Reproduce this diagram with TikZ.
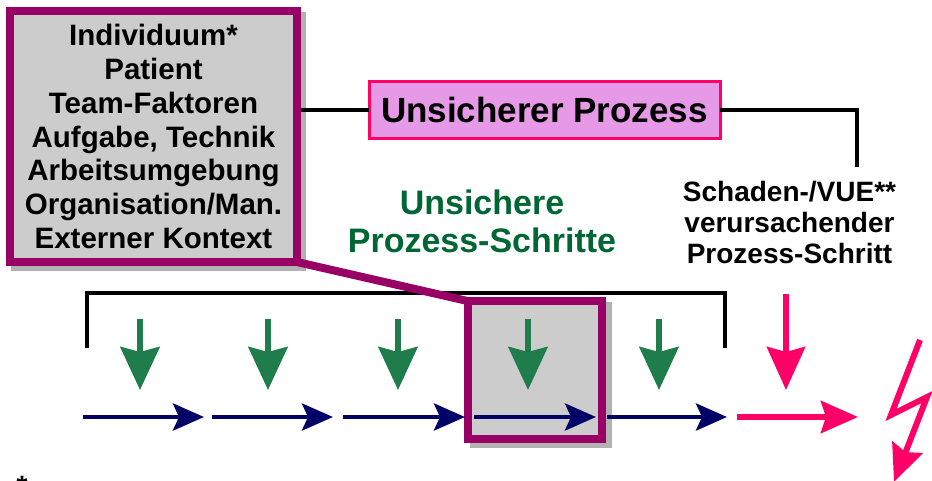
\documentclass[tikz,border=0pt]{standalone}
\usepackage{fontspec}
\setmainfont{Liberation Sans}
\usetikzlibrary{arrows.meta,backgrounds}
\definecolor{boxmag}{RGB}{153,0,102}
\definecolor{hotpink}{RGB}{255,0,102}
\definecolor{lilac}{RGB}{230,153,230}
\definecolor{navyc}{RGB}{0,0,102}
\definecolor{greenarr}{RGB}{30,125,75}
\definecolor{greentxt}{RGB}{0,102,51}
\definecolor{boxgray}{RGB}{204,204,204}
\definecolor{shadowgray}{RGB}{178,178,178}
\begin{document}
\begin{tikzpicture}[x=1pt,y=-1pt,
  factorbox/.style={draw=boxmag, line width=8pt, fill=boxgray, align=center, inner sep=0pt, outer sep=0pt,
     font=\bfseries\fontsize{29.5}{33.8}\selectfont},
  focusbox/.style={draw=boxmag, line width=8pt, fill=boxgray, inner sep=0pt, outer sep=0pt},
  procbox/.style={draw=hotpink, line width=3pt, fill=lilac, inner sep=0pt, outer sep=0pt,
     font=\bfseries\fontsize{35}{40}\selectfont},
  connector/.style={draw=black, line width=3.5pt},
  linkline/.style={draw=boxmag, line width=8pt},
  stepflow/.style={draw=navyc, line width=4.5pt, -{Stealth[length=31pt,width=27pt,inset=6pt]}},
  hazard/.style={draw=greenarr, line width=6pt, -{Stealth[length=43pt,width=39pt,inset=5pt]}},
  harmdown/.style={draw=hotpink, line width=6pt, -{Stealth[length=43pt,width=38pt,inset=5pt]}},
  harmright/.style={draw=hotpink, line width=6pt, line join=miter, -{Stealth[length=37pt,width=32pt,inset=5pt]}},
  greenlabel/.style={text=greentxt, align=center, font=\bfseries\fontsize{34}{38}\selectfont},
  blacklabel/.style={text=black, align=center, font=\bfseries\fontsize{28}{31}\selectfont}
]
\useasboundingbox (0,0) rectangle (932,480);

% boxes
\node[factorbox, minimum width=287pt, minimum height=251pt] (factors) at (153.5,136.5)
  {Individuum*\\Patient\\Team-Faktoren\\Aufgabe, Technik\\Arbeitsumgebung\\Organisation/Man.\\Externer Kontext};
\node[procbox, minimum width=351pt, minimum height=57pt] (proc) at (544.5,110) {Unsicherer Prozess};
\node[focusbox, minimum width=134pt, minimum height=137.5pt] (focus) at (534.5,369.75) {};

\begin{pgfonlayer}{background}
  \fill[shadowgray] ([shift={(1,1)}]factors.north west) rectangle ([shift={(9,9)}]factors.south east);
  \fill[shadowgray] ([shift={(2,1)}]focus.north west) rectangle ([shift={(10,9)}]focus.south east);
\end{pgfonlayer}

% labels
\node[greenlabel] (hazlabel) at (482,221.6) {Unsichere\\Prozess-Schritte};
\node[blacklabel] (harmlabel) at (789.5,222.5) {Schaden-/VUE**\\verursachender\\Prozess-Schritt};
\node[anchor=base, font=\bfseries\fontsize{28}{31}\selectfont] (note) at (22,495) {*};

% connectors around the process box
\coordinate (harmtop) at (857,167);
\draw[connector] ([xshift=4pt]factors.east |- proc.west) -- (proc.west);
\draw[connector] (proc.east) -- (proc.east -| harmtop) -- (harmtop);

% bracket over the process steps
\coordinate (brL) at (87,348);
\coordinate (brLt) at (87,293);
\coordinate (brR) at (725,348);
\draw[connector] (brL) -- (brLt) -| (brR);

% link from factors to the highlighted step
\draw[linkline] (factors.south east) -- (focus.north west);

% process flow
\foreach \i/\a/\b in {1/83/204, 2/212/333, 3/343/465, 4/474/596, 5/607/727} {
  \coordinate (fa\i) at (\a,417);
  \coordinate (fb\i) at (\b,417);
  \draw[stepflow] (fa\i) -- (fb\i);
}
% hazards (green)
\foreach \i/\x in {1/140, 2/268, 3/398, 4/528, 5/659} {
  \coordinate (ha\i) at (\x,319);
  \coordinate (hb\i) at (\x,390);
  \draw[hazard] (ha\i) -- (hb\i);
}
% harmful step
\coordinate (pa) at (786,294);
\coordinate (pb) at (786,390);
\draw[harmdown] (pa) -- (pb);
\coordinate (ra) at (737,417);
\coordinate (rb) at (858,417);
\draw[harmright] (ra) -- (rb);
% lightning
\coordinate (z1) at (920,340);
\coordinate (z2) at (891,415);
\coordinate (z3) at (927,397);
\coordinate (z4) at (894,482);
\draw[harmright] (z1) -- (z2) -- (z3) -- (z4);
\end{tikzpicture}
\end{document}
